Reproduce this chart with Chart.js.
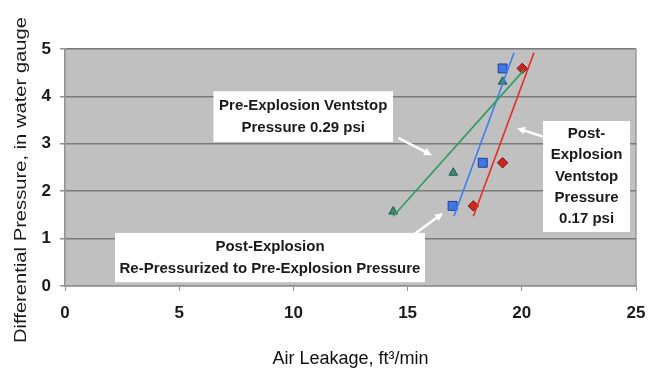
<!DOCTYPE html>
<html>
<head>
<meta charset="utf-8">
<script src="https://cdn.jsdelivr.net/npm/chart.js@4"></script>
<style>
  html, body { margin: 0; padding: 0; background: #fff; }
  #wrap { width: 661px; height: 370px; position: relative; }
</style>
</head>
<body>
<div id="wrap"><canvas id="leakChart" width="661" height="370"></canvas></div>
<script>
// measured points
const preX = [14.37, 17.0, 19.16];
const preY = [1.57, 2.39, 4.31];
const repX = [16.97, 18.29, 19.16];
const repY = [1.69, 2.60, 4.59];
const postX = [17.88, 19.16, 20.02];
const postY = [1.69, 2.60, 4.59];

// trend line end points
const preFitX = [14.37, 20.10];
const preFitY = [1.47, 4.56];
const repFitX = [17.03, 19.66];
const repFitY = [1.47, 4.92];
const postFitX = [17.88, 20.53];
const postFitY = [1.47, 4.92];

const xTicks = [0, 5, 10, 15, 20, 25];
const yTicks = [0, 1, 2, 3, 4, 5];

const yTitle = "Differential Pressure, in water gauge";

// callouts (data units)
const callouts = [
  { box: [6.5, 4.11, 14.36, 3.04], lines: ["Pre-Explosion Ventstop", "Pressure 0.29 psi"],
    arrow: [14.6, 3.12, 16.07, 2.76] },
  { box: [2.19, 1.12, 15.76, 0.08], lines: ["Post-Explosion", "Re-Pressurized to Pre-Explosion Pressure"],
    arrow: [15.32, 1.1, 16.55, 1.54] },
  { box: [20.93, 3.48, 24.74, 1.14], lines: ["Post-", "Explosion", "Ventstop", "Pressure", "0.17 psi"],
    arrow: [21.0, 3.14, 19.79, 3.33] }
];

const FONT = "'Liberation Sans', Arial, sans-serif";
const pts = (xs, ys) => xs.map((x, i) => ({ x: x, y: ys[i] }));

const plotBg = {
  id: "plotBg",
  beforeDraw(chart) {
    const { ctx, chartArea: a } = chart;
    ctx.save();
    ctx.fillStyle = "#c0c0c0";
    ctx.fillRect(a.left, a.top, a.right - a.left, a.bottom - a.top);
    ctx.strokeStyle = "#9a9a9a";
    ctx.lineWidth = 1.5;
    ctx.beginPath();
    ctx.moveTo(a.right, a.top);
    ctx.lineTo(a.right, a.bottom);
    ctx.stroke();
    ctx.restore();
  }
};

function arrow(ctx, x1, y1, x2, y2) {
  const ang = Math.atan2(y2 - y1, x2 - x1);
  const head = 9;
  ctx.beginPath();
  ctx.moveTo(x1, y1);
  ctx.lineTo(x2 - Math.cos(ang) * head * 0.8, y2 - Math.sin(ang) * head * 0.8);
  ctx.stroke();
  ctx.beginPath();
  ctx.moveTo(x2, y2);
  ctx.lineTo(x2 - head * Math.cos(ang - 0.45), y2 - head * Math.sin(ang - 0.45));
  ctx.lineTo(x2 - head * Math.cos(ang + 0.45), y2 - head * Math.sin(ang + 0.45));
  ctx.closePath();
  ctx.fill();
}

const calloutPlugin = {
  id: "callouts",
  afterDatasetsDraw(chart) {
    const { ctx, scales } = chart;
    const sx = scales.x, sy = scales.y;
    ctx.save();
    callouts.forEach(c => {
      const l = sx.getPixelForValue(c.box[0]), t = sy.getPixelForValue(c.box[1]);
      const r = sx.getPixelForValue(c.box[2]), b = sy.getPixelForValue(c.box[3]);
      ctx.fillStyle = "#ffffff";
      ctx.fillRect(l, t, r - l, b - t);
      ctx.strokeStyle = "#ffffff";
      ctx.lineWidth = 2.5;
      arrow(ctx, sx.getPixelForValue(c.arrow[0]), sy.getPixelForValue(c.arrow[1]),
        sx.getPixelForValue(c.arrow[2]), sy.getPixelForValue(c.arrow[3]));
      ctx.fillStyle = "#1a1a1a";
      ctx.font = "bold 15px " + FONT;
      ctx.textAlign = "center";
      ctx.textBaseline = "middle";
      const n = c.lines.length;
      const lh = n > 2 ? 21.3 : 22;
      const cy = (t + b) / 2;
      c.lines.forEach((s, i) => {
        ctx.fillText(s, (l + r) / 2, cy + (i - (n - 1) / 2) * lh);
      });
    });

    // y axis title, stretched along its length like the original
    ctx.translate(21, 180);
    ctx.rotate(-Math.PI / 2);
    ctx.font = "17px " + FONT;
    const w = ctx.measureText(yTitle).width;
    ctx.scale(326 / w, 1);
    ctx.fillStyle = "#1a1a1a";
    ctx.textAlign = "center";
    ctx.textBaseline = "middle";
    ctx.fillText(yTitle, 0, 0);
    ctx.restore();
  }
};

new Chart(document.getElementById("leakChart"), {
  type: "scatter",
  data: {
    datasets: [
      { data: pts(preFitX, preFitY), showLine: true, borderColor: "#2f9a62", borderWidth: 1.6, pointRadius: 0 },
      { data: pts(repFitX, repFitY), showLine: true, borderColor: "#3d7ff0", borderWidth: 1.6, pointRadius: 0 },
      { data: pts(postFitX, postFitY), showLine: true, borderColor: "#e62a22", borderWidth: 1.6, pointRadius: 0 },
      { data: pts(preX, preY), pointStyle: "triangle", pointRadius: 5, backgroundColor: "#3f8a76", borderColor: "#1f5a4a", borderWidth: 1 },
      { data: pts(repX, repY), pointStyle: "rect", pointRadius: 6.3, backgroundColor: "#3f78e6", borderColor: "#1f3f8f", borderWidth: 1 },
      { data: pts(postX, postY), pointStyle: "rectRot", pointRadius: 5.2, backgroundColor: "#c8281e", borderColor: "#7a1010", borderWidth: 1 }
    ]
  },
  options: {
    responsive: false,
    animation: false,
    events: [],
    layout: { padding: { top: 49, right: 25, left: 0, bottom: 0 } },
    plugins: { legend: { display: false }, tooltip: { enabled: false } },
    scales: {
      x: {
        type: "linear", min: 0, max: 25,
        afterBuildTicks: s => { s.ticks = xTicks.map(v => ({ value: v })); },
        afterFit: s => { s.height = 84; },
        grid: { drawOnChartArea: false, drawTicks: true, tickLength: 5, color: "#909090" },
        border: { color: "#909090", width: 1.5 },
        ticks: { color: "#1a1a1a", padding: 12, font: { family: FONT, size: 17, weight: "bold" } },
        title: { display: true, text: "Air Leakage, ft³/min", color: "#111111", padding: { bottom: 0 },
          font: { family: FONT, size: 18 } }
      },
      y: {
        type: "linear", min: 0, max: 5,
        afterBuildTicks: s => { s.ticks = yTicks.map(v => ({ value: v })); },
        afterFit: s => { s.width = 65; },
        grid: { color: "#7a7a7a", lineWidth: 1.5, tickLength: 5, tickColor: "#909090" },
        border: { color: "#909090", width: 1.5 },
        ticks: { color: "#1a1a1a", padding: 9, font: { family: FONT, size: 17, weight: "bold" } },
        title: { display: false }
      }
    }
  },
  plugins: [plotBg, calloutPlugin]
});
</script>
</body>
</html>
